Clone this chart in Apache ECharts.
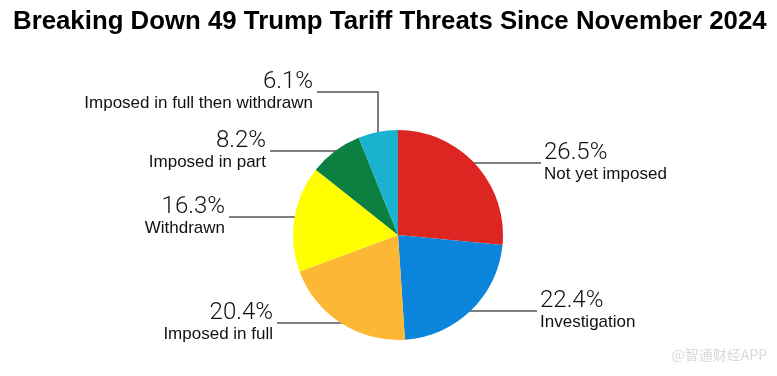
<!DOCTYPE html>
<html>
<head>
<meta charset="utf-8">
<script src="https://cdn.jsdelivr.net/npm/echarts@6/dist/echarts.min.js"></script>
<style>
html,body{margin:0;padding:0;background:#fff;}
#chart{width:777px;height:376px;}
</style>
</head>
<body>
<div id="chart"></div>
<script>
const categories = ['Not yet imposed', 'Investigation', 'Imposed in full', 'Withdrawn', 'Imposed in part', 'Imposed in full then withdrawn'];
const shares = [26.5, 22.4, 20.4, 16.3, 8.2, 6.1];
const colors = ['#dd2621', '#0a85db', '#fcb735', '#ffff00', '#0b8040', '#17b3cf'];

// label layout (positions only): side, y of the leader line, outer x of the line
const CX = 398, CY = 235, R = 105;
const labelSpec = [
  { side: 'right', lineY: 163, outerX: 541 },
  { side: 'right', lineY: 311, outerX: 537 },
  { side: 'left',  lineY: 323, outerX: 277 },
  { side: 'left',  lineY: 217, outerX: 229 },
  { side: 'left',  lineY: 151, outerX: 270 },
  { side: 'top',   lineY: 92,  outerX: 317, vx: 378 }
];

const chart = echarts.init(document.getElementById('chart'), null, { renderer: 'canvas' });

function arcX(y, side) {
  const dy = y - CY;
  const dx = Math.sqrt(Math.max(0, R * R - dy * dy));
  return side === 'right' ? CX + dx - 2 : CX - dx + 2;
}

chart.setOption({
  animation: false,
  backgroundColor: '#fff',
  title: {
    text: 'Breaking Down 49 Trump Tariff Threats Since November 2024',
    left: 13, top: 9, padding: 0,
    textStyle: { fontFamily: 'Liberation Sans', fontWeight: 'bold', fontSize: 25.8, color: '#000' }
  },
  graphic: [{
    type: 'text', right: 10, top: 348,
    style: { text: '@智通财经APP', font: '14px "Noto Sans CJK SC"', fill: '#d9d9d9' }
  }],
  series: [{
    type: 'pie',
    center: [CX, CY],
    radius: [0, R],
    startAngle: 90,
    clockwise: true,
    avoidLabelOverlap: false,
    itemStyle: { borderWidth: 0 },
    emphasis: { disabled: true },
    data: categories.map((c, i) => ({ name: c, value: shares[i], itemStyle: { color: colors[i] } })),
    label: {
      show: true,
      position: 'outside',
      formatter: p => '{p|' + p.value.toFixed(1) + '%}\n{n|' + p.name + '}',
      rich: {
        p: { fontFamily: 'Roboto', fontWeight: 300, fontSize: 24, lineHeight: 23, color: '#111' },
        n: { fontFamily: 'Liberation Sans', fontSize: 17, lineHeight: 21, color: '#111' }
      }
    },
    labelLine: { show: true, lineStyle: { color: '#555', width: 1.5 } },
    labelLayout: function (params) {
      const s = labelSpec[params.dataIndex];
      if (s.side === 'top') {
        const yTop = CY - Math.sqrt(R * R - (s.vx - CX) * (s.vx - CX)) + 2;
        return {
          x: s.outerX - 4, y: s.lineY, align: 'right', verticalAlign: 'middle',
          labelLinePoints: [[s.vx, yTop], [s.vx, s.lineY], [s.outerX, s.lineY]]
        };
      }
      const inner = arcX(s.lineY, s.side);
      const mid = (inner + s.outerX) / 2;
      return {
        x: s.side === 'right' ? s.outerX + 3 : s.outerX - 4,
        y: s.lineY,
        align: s.side === 'right' ? 'left' : 'right',
        verticalAlign: 'middle',
        labelLinePoints: [[inner, s.lineY], [mid, s.lineY], [s.outerX, s.lineY]]
      };
    }
  }]
});
</script>
</body>
</html>
